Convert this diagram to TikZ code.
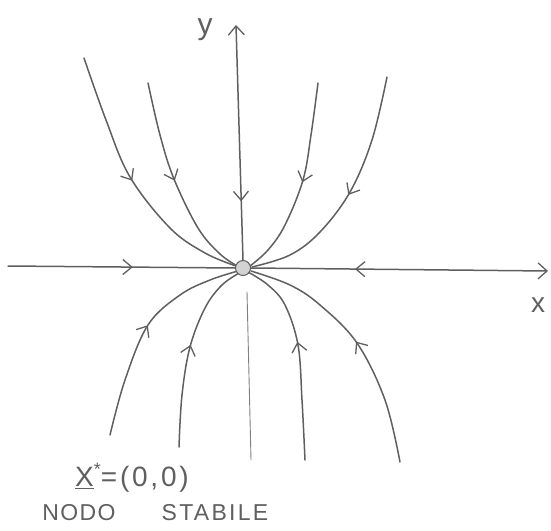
\documentclass[tikz,border=0pt]{standalone}
\usepackage{fontspec}
\newfontfamily\hand[LetterSpace=6]{Liberation Sans}
\newfontfamily\handwide[LetterSpace=10]{Liberation Sans}
\usetikzlibrary{arrows.meta,decorations.markings}
\definecolor{pencil}{RGB}{95,95,95}
\begin{document}
\begin{tikzpicture}[x=1pt,y=-1pt,
  traj/.style={draw=pencil, line width=1.5pt, line cap=round, line join=round},
  thinline/.style={draw=pencil!80, line width=0.9pt, line cap=round},
  barb/.tip={Straight Barb[length=9pt,width=15pt,line width=1.3pt]},
  midarrow/.style={postaction={decorate}, decoration={markings, mark=at position #1 with {\arrow{barb}}}},
  midarrowrev/.style={postaction={decorate}, decoration={markings, mark=at position #1 with {\arrowreversed{barb}}}},
  lbl/.style={text=pencil, inner sep=0pt, font=\hand}
]
\useasboundingbox (0,0) rectangle (551,530);

% trajectories from above
\draw[traj, midarrow=0.49] plot[smooth, tension=0.6] coordinates {(84,58) (106,120) (130,177) (170,228) (205,253) (236,266)};
\draw[traj, midarrow=0.48] plot[smooth, tension=0.6] coordinates {(148,83) (160,135) (174,179) (198,228) (220,254) (239,267)};
\draw[traj, midarrow=0.5] plot[smooth, tension=0.6] coordinates {(318,83) (311,135) (303,180) (285,225) (268,250) (250,266)};
\draw[traj, midarrow=0.5] plot[smooth, tension=0.6] coordinates {(387,77) (372,140) (350,192) (320,232) (290,255) (252,267)};

% trajectories from below
\draw[traj, midarrow=0.52] plot[smooth, tension=0.6] coordinates {(110,435) (125,380) (148,325) (180,295) (210,280) (238,271)};
\draw[traj, midarrow=0.53] plot[smooth, tension=0.6] coordinates {(179,447) (182,395) (190,347) (205,308) (222,285) (241,272)};
\draw[traj, midarrow=0.57] plot[smooth, tension=0.6] coordinates {(305,460) (302,400) (298,345) (285,305) (268,285) (248,272)};
\draw[traj, midarrow=0.5] plot[smooth, tension=0.6] coordinates {(400,462) (385,400) (357,343) (320,305) (290,285) (251,271)};

% equilibrium
\node[circle, draw=pencil, line width=1pt, fill=gray!35, minimum size=15pt, inner sep=0pt] (o) at (243,268) {};

% axes
\coordinate (xl) at (8,266);
\coordinate (xr) at (548,271);
\coordinate (yt) at (236,25);
\coordinate (yb) at (251,460);
\draw[traj, midarrow=0.55] (xl) -- (o.west);
\draw[traj, midarrowrev=0.35, -{Straight Barb[length=9pt,width=16pt,line width=1.3pt]}] (o.east) -- (xr);
\draw[traj, midarrowrev=0.25, -{Straight Barb[length=9pt,width=16pt,line width=1.3pt]}] (o.north) -- (yt);
\draw[thinline] (247,292) -- (yb);

% labels
\node[lbl, font=\hand\fontsize{30}{30}\selectfont] (ylab) at (205,30) {y};
\node[lbl, font=\hand\fontsize{28}{28}\selectfont] (xlab) at (538,305) {x};
\node[lbl, font=\handwide\fontsize{28}{28}\selectfont] (eq) at (132,478) {\underline{X}\raisebox{0.4em}{\fontsize{18}{18}\selectfont *}=(0,0)};
\node[lbl, font=\hand\fontsize{23}{23}\selectfont] (nodo) at (79,513) {NODO};
\node[lbl, font=\handwide\fontsize{23}{23}\selectfont] (stab) at (215,513) {STABILE};
\end{tikzpicture}
\end{document}
